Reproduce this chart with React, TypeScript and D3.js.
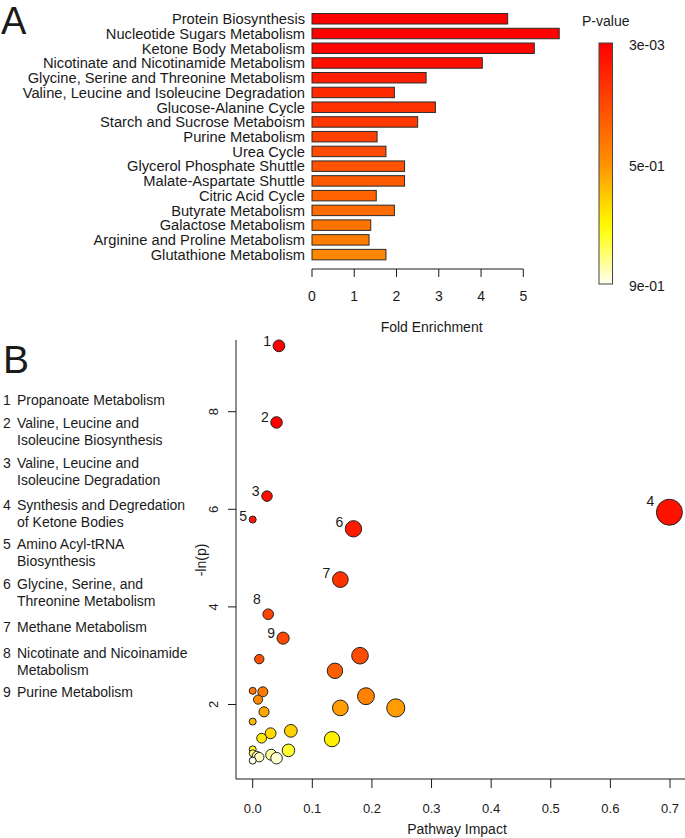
import React, { useRef, useEffect } from 'react'
import * as d3 from 'd3'

// Panel A: enrichment bars
const pathways = [
  'Protein Biosynthesis',
  'Nucleotide Sugars Metabolism',
  'Ketone Body Metabolism',
  'Nicotinate and Nicotinamide Metabolism',
  'Glycine, Serine and Threonine Metabolism',
  'Valine, Leucine and Isoleucine Degradation',
  'Glucose-Alanine Cycle',
  'Starch and Sucrose Metaboism',
  'Purine Metabolism',
  'Urea Cycle',
  'Glycerol Phosphate Shuttle',
  'Malate-Aspartate Shuttle',
  'Citric Acid Cycle',
  'Butyrate Metabolism',
  'Galactose Metabolism',
  'Arginine and Proline Metabolism',
  'Glutathione Metabolism',
]
const foldEnrichment = [4.63, 5.85, 5.26, 4.03, 2.7, 1.95, 2.92, 2.5, 1.54, 1.75, 2.19, 2.19, 1.52, 1.95, 1.39, 1.35, 1.75]
const pValues = [0.003, 0.005, 0.018, 0.05, 0.1, 0.13, 0.155, 0.18, 0.205, 0.235, 0.26, 0.28, 0.31, 0.335, 0.36, 0.39, 0.425]
const foldTicks = [0, 1, 2, 3, 4, 5]
const legendLabels = ['3e-03', '5e-01', '9e-01']

// Panel B: pathway impact vs -ln(p)
const impact = [
  0.044, 0.04, 0.024, 0.699, 0.0, 0.169, 0.147, 0.026, 0.051,
  0.011, 0.18, 0.138, 0.0, 0.017, 0.009, 0.19, 0.147, 0.24, 0.019, 0.0,
  0.064, 0.03, 0.015, 0.133, 0.06, 0.0, 0.0, 0.031, 0.04, 0.007, 0.011, 0.0,
]
const negLogP = [
  9.35, 7.78, 6.27, 5.94, 5.79, 5.6, 4.56, 3.85, 3.36,
  2.93, 3.0, 2.69, 2.28, 2.26, 2.1, 2.17, 1.93, 1.93, 1.85, 1.65,
  1.46, 1.41, 1.31, 1.29, 1.06, 1.08, 1.0, 0.97, 0.9, 0.95, 0.92, 0.85,
]
const pointLabels = ['1', '2', '3', '4', '5', '6', '7', '8', '9']
const keyNames = [
  ['Propanoate Metabolism'],
  ['Valine, Leucine and', 'Isoleucine Biosynthesis'],
  ['Valine, Leucine and', 'Isoleucine Degradation'],
  ['Synthesis and Degredation', 'of Ketone Bodies'],
  ['Amino Acyl-tRNA', 'Biosynthesis'],
  ['Glycine, Serine, and', 'Threonine Metabolism'],
  ['Methane Metabolism'],
  ['Nicotinate and Nicoinamide', 'Metabolism'],
  ['Purine Metabolism'],
]
const impactTicks = [0, 0.1, 0.2, 0.3, 0.4, 0.5, 0.6, 0.7]
const lnTicks = [2, 4, 6, 8]

const FONT = 'Liberation Sans, Arial, sans-serif'
const INK = '#1a1a1a'

export default function App() {
  const ref = useRef<SVGSVGElement>(null)

  useEffect(() => {
    const svg = d3.select(ref.current)
    svg.selectAll('*').remove()
    svg.attr('font-family', FONT).attr('fill', INK)

    // ---------- Panel A ----------
    const heat = d3
      .scaleLinear<string>()
      .domain([0.003, 0.45, 0.69, 0.9])
      .range(['#ff0000', '#ff9000', '#ffff00', '#fffff2'])
      .clamp(true)

    const x = d3.scaleLinear().domain([0, 5]).range([312, 523.3])
    const y = d3
      .scaleBand()
      .domain(pathways)
      .range([11.4, 11.4 + 17 * 14.74])
      .paddingInner(0.29)
      .paddingOuter(0.145)

    svg.append('text').attr('x', 1).attr('y', 34).attr('font-size', 38).text('A')

    const a = svg.append('g')
    a.selectAll('rect.bar')
      .data(pathways)
      .join('rect')
      .attr('class', 'bar')
      .attr('x', x(0))
      .attr('y', (d) => y(d)!)
      .attr('width', (d, i) => x(foldEnrichment[i]) - x(0))
      .attr('height', y.bandwidth())
      .attr('fill', (d, i) => heat(pValues[i]))
      .attr('stroke', '#2b2b2b')
      .attr('stroke-width', 1)

    a.selectAll('text.cat')
      .data(pathways)
      .join('text')
      .attr('class', 'cat')
      .attr('x', 305)
      .attr('y', (d) => y(d)! + y.bandwidth() / 2)
      .attr('dy', '0.36em')
      .attr('text-anchor', 'end')
      .attr('font-size', 14.7)
      .text((d) => d)

    const axA = a.append('g').attr('transform', 'translate(0,269)')
    axA.append('line').attr('x1', x(0)).attr('x2', x(5)).attr('stroke', INK)
    axA.selectAll('line.tick')
      .data(foldTicks)
      .join('line')
      .attr('class', 'tick')
      .attr('x1', (d) => x(d))
      .attr('x2', (d) => x(d))
      .attr('y2', 8)
      .attr('stroke', INK)
    axA.selectAll('text')
      .data(foldTicks)
      .join('text')
      .attr('x', (d) => x(d))
      .attr('y', 32)
      .attr('text-anchor', 'middle')
      .attr('font-size', 14)
      .text((d) => d)
    a.append('text')
      .attr('x', x(2.83))
      .attr('y', 332)
      .attr('text-anchor', 'middle')
      .attr('font-size', 14)
      .text('Fold Enrichment')

    // colour key
    const ly = d3.scaleLinear().domain([0, 1]).range([43, 284])
    const grad = svg
      .append('defs')
      .append('linearGradient')
      .attr('id', 'pgrad')
      .attr('x1', 0)
      .attr('x2', 0)
      .attr('y1', 0)
      .attr('y2', 1)
    d3.range(0, 1.0001, 0.05).forEach((t) => {
      grad
        .append('stop')
        .attr('offset', t)
        .attr('stop-color', heat(0.003 + t * (0.9 - 0.003)))
    })
    svg.append('text').attr('x', 582).attr('y', 26).attr('font-size', 14).text('P-value')
    svg.append('rect')
      .attr('x', 599)
      .attr('y', ly(0))
      .attr('width', 13.5)
      .attr('height', ly(1) - ly(0))
      .attr('fill', 'url(#pgrad)')
      .attr('stroke', '#444')
    svg.selectAll('text.leg')
      .data(legendLabels)
      .join('text')
      .attr('class', 'leg')
      .attr('x', 629)
      .attr('y', (d, i) => ly(i / 2) + 2)
      .attr('dy', '0.36em')
      .attr('font-size', 14)
      .text((d) => d)

    // ---------- Panel B ----------
    svg.append('text').attr('x', 3).attr('y', 373).attr('font-size', 39).text('B')

    const bx = d3.scaleLinear().domain([0, 0.7]).range([252.7, 670])
    const by = d3.scaleLinear().domain([2, 8]).range([704.5, 411.7])
    const br = d3.scaleSqrt().domain([0, 0.7]).range([3.5, 13])
    const bcol = d3
      .scaleLinear<string>()
      .domain([0.85, 0.95, 1.1, 1.3, 1.5, 1.9, 2.3, 3.0, 4.0, 6.0, 8.0])
      .range(['#fffff2', '#ffffb0', '#ffff00', '#ffee00', '#ffc800', '#ffa000', '#ff7400', '#ff4c00', '#ff4000', '#ff1000', '#ff0000'])
      .clamp(true)

    const b = svg.append('g')
    b.append('line').attr('x1', 236).attr('x2', 236).attr('y1', 340).attr('y2', 779).attr('stroke', INK)
    b.append('line').attr('x1', 236).attr('x2', 685).attr('y1', 779).attr('y2', 779).attr('stroke', INK)
    b.selectAll('line.xt')
      .data(impactTicks)
      .join('line')
      .attr('class', 'xt')
      .attr('x1', (d) => bx(d))
      .attr('x2', (d) => bx(d))
      .attr('y1', 779)
      .attr('y2', 788)
      .attr('stroke', INK)
    b.selectAll('text.xt')
      .data(impactTicks)
      .join('text')
      .attr('class', 'xt')
      .attr('x', (d) => bx(d))
      .attr('y', 813)
      .attr('text-anchor', 'middle')
      .attr('font-size', 13)
      .text((d) => d3.format('.1f')(d))
    b.append('text')
      .attr('x', 457)
      .attr('y', 834)
      .attr('text-anchor', 'middle')
      .attr('font-size', 14)
      .text('Pathway Impact')

    b.selectAll('line.yt')
      .data(lnTicks)
      .join('line')
      .attr('class', 'yt')
      .attr('x1', 228)
      .attr('x2', 236)
      .attr('y1', (d) => by(d))
      .attr('y2', (d) => by(d))
      .attr('stroke', INK)
    b.selectAll('text.yt')
      .data(lnTicks)
      .join('text')
      .attr('class', 'yt')
      .attr('transform', (d) => `translate(218,${by(d)}) rotate(-90)`)
      .attr('text-anchor', 'middle')
      .attr('font-size', 13)
      .text((d) => d)
    b.append('text')
      .attr('transform', 'translate(206,560) rotate(-90)')
      .attr('text-anchor', 'middle')
      .attr('font-size', 14)
      .text('-ln(p)')

    const idx = d3.range(impact.length)
    b.selectAll('circle')
      .data(idx)
      .join('circle')
      .attr('cx', (i) => bx(impact[i]))
      .attr('cy', (i) => by(negLogP[i]))
      .attr('r', (i) => br(impact[i]))
      .attr('fill', (i) => bcol(negLogP[i]))
      .attr('stroke', '#222')
      .attr('stroke-width', 1)

    b.selectAll('text.pl')
      .data(pointLabels)
      .join('text')
      .attr('class', 'pl')
      .attr('x', (d, i) => bx(impact[i]) - br(impact[i]) - 6)
      .attr('y', (d, i) => by(negLogP[i]) - br(impact[i]) * 0.9 - (d === '8' ? 10 : 0))
      .attr('dy', '0.36em')
      .attr('text-anchor', 'middle')
      .attr('font-size', 14)
      .text((d) => d)

    // numbered key on the left
    const keyY = [400, 423, 463, 505, 544, 584, 627, 653, 692]
    keyNames.forEach((lines, i) => {
      const g = b.append('g').attr('transform', `translate(0,${keyY[i]})`)
      g.append('text').attr('x', 3).attr('dy', '0.36em').attr('font-size', 14).text(pointLabels[i])
      lines.forEach((ln, j) => {
        g.append('text')
          .attr('x', 17)
          .attr('y', j * 17)
          .attr('dy', '0.36em')
          .attr('font-size', 14)
          .text(ln)
      })
    })
  }, [])

  return (
    <div style={{ position: 'absolute', left: 0, top: 0 }}>
      <svg ref={ref} width={685} height={838} style={{ display: 'block' }}></svg>
    </div>
  )
}
